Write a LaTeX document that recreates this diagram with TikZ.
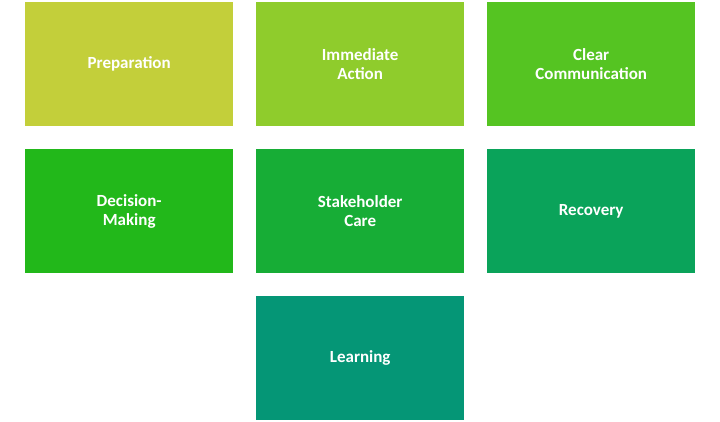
\documentclass[tikz,border=0pt]{standalone}
\usepackage{fontspec}
\setmainfont{Carlito}
\begin{document}
\begin{tikzpicture}[x=1pt,y=-1pt,
  box/.style={minimum width=208pt,minimum height=124pt,inner sep=0pt,text=white,font=\bfseries\fontsize{17}{19}\selectfont,align=center,anchor=north west}]
\useasboundingbox (0,0) rectangle (720,422);
\definecolor{c1}{HTML}{C3CF3A}
\definecolor{c2}{HTML}{8FCC2C}
\definecolor{c3}{HTML}{55C422}
\definecolor{c4}{HTML}{22B81A}
\definecolor{c5}{HTML}{17AD36}
\definecolor{c6}{HTML}{0AA35A}
\definecolor{c7}{HTML}{059676}
\node[box,fill=c1] (a) at (25,2) {Preparation};
\node[box,fill=c2] (b) at (256,2) {Immediate\\Action};
\node[box,fill=c3] (c) at (487,2) {Clear\\Communication};
\node[box,fill=c4] (d) at (25,149) {Decision-\\Making};
\node[box,fill=c5] (e) at (256,149) {Stakeholder\\Care};
\node[box,fill=c6] (f) at (487,149) {Recovery};
\node[box,fill=c7] (g) at (256,296) {Learning};
\end{tikzpicture}
\end{document}
